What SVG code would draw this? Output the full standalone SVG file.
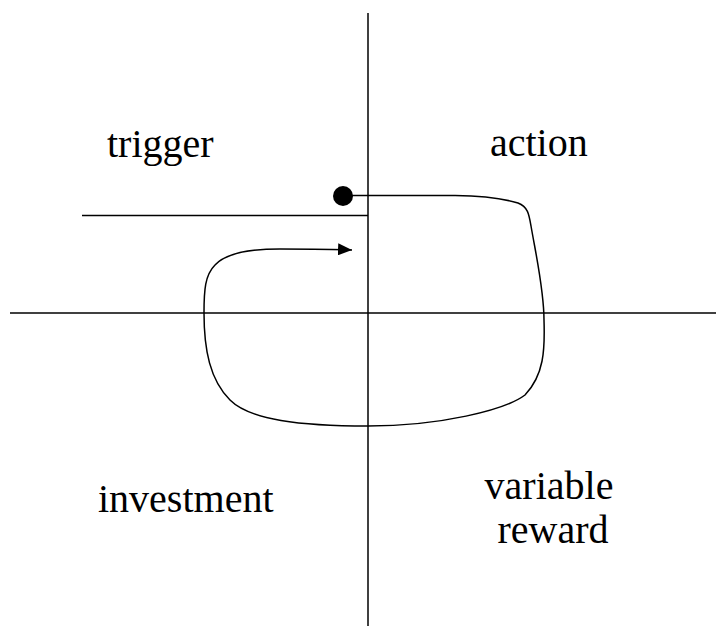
<svg xmlns="http://www.w3.org/2000/svg" width="716" height="626" viewBox="0 0 716 626">
<style>
.ax{stroke:#000;stroke-width:1.5;fill:none}
.cv{stroke:#000;stroke-width:1.5;fill:none}
.lb{font-family:"Times New Roman",Times,"Liberation Serif",Tinos,"Noto Serif","DejaVu Serif",serif;font-size:40px;fill:#000}
</style>
<defs>
<marker id="ah" viewBox="0 0 14 12" refX="14" refY="6" markerWidth="14" markerHeight="12" markerUnits="userSpaceOnUse" orient="auto">
<path d="M0,0 L14,6 L0,12 Z" fill="#000"/>
</marker>
</defs>
<rect width="716" height="626" fill="#fff"/>
<g id="axes">
<line class="ax" x1="368" y1="13" x2="368" y2="626"/>
<line class="ax" x1="10" y1="313" x2="716" y2="313"/>
<line class="ax" x1="82" y1="215.5" x2="368" y2="215.5"/>
</g>
<g id="trigger"><text class="lb" x="107" y="157">trigger</text></g>
<g id="action"><text class="lb" x="490" y="156">action</text></g>
<g id="investment"><text class="lb" x="98" y="512">investment</text></g>
<g id="variable-reward"><text class="lb" text-anchor="middle" x="549" y="499">variable</text><text class="lb" text-anchor="middle" x="553" y="543">reward</text></g>
<g id="start"><circle cx="343" cy="196" r="10" fill="#000"/></g>
<g id="connectors">
<path class="cv" marker-end="url(#ah)" d="M343,195.5 L455,195.5 C490,196 505,199 518,203 C528,207 529,214 531,226 C536,255 544,290 544,320 C545,350 544,375 525,395 C505,410 440,426 368,426 C300,426 250,420 230,400 C210,380 204,350 204,313 C204,290 205,275 215,265 C225,254 245,249 280,249 C310,249 330,249 352,250"/>
</g>
</svg>
